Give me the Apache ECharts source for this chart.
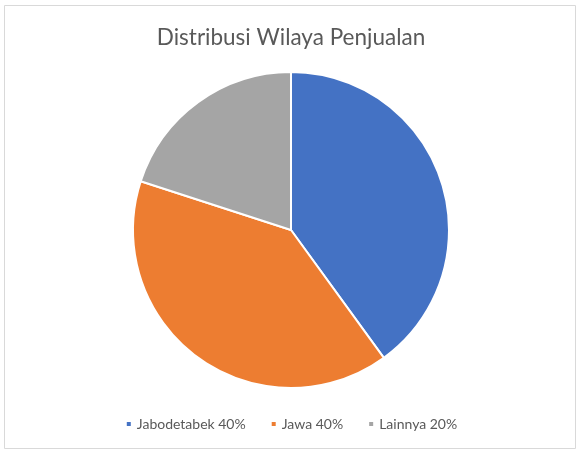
<!DOCTYPE html>
<html><head><meta charset="utf-8">
<script src="https://cdn.jsdelivr.net/npm/echarts@6/dist/echarts.min.js"></script>
<style>html,body{margin:0;padding:0;background:#fff}#c{width:582px;height:456px}</style>
</head><body><div id="c"></div>
<script>
const categories = ['Jabodetabek', 'Jawa', 'Lainnya'];
const values = [40, 40, 20];
const colors = ['#4472C4', '#ED7D31', '#A5A5A5'];
const titleText = 'Distribusi Wilaya Penjualan';

const chart = echarts.init(document.getElementById('c'));
chart.setOption({
  animation: false,
  color: colors,
  title: {
    text: titleText, left: 'center', top: 21,
    textStyle: { fontFamily: 'Lato', fontSize: 22.5, fontWeight: 'normal', color: '#595959' }
  },
  legend: {
    bottom: 20, left: 'center', icon: 'rect', itemWidth: 6, itemHeight: 6, itemGap: 24,
    textStyle: { fontFamily: 'Lato', fontSize: 14, color: '#595959' },
    formatter: function (n) { const i = categories.indexOf(n); return n + ' ' + values[i] + '%'; }
  },
  graphic: [{
    type: 'rect', shape: { x: 4.5, y: 5.5, width: 571, height: 443 },
    style: { fill: 'none', stroke: '#D9D9D9', lineWidth: 1 }, silent: true
  }],
  series: [{
    type: 'pie', center: [291, 230], radius: 158, startAngle: 90, clockwise: true,
    label: { show: false }, labelLine: { show: false },
    itemStyle: { borderColor: '#fff', borderWidth: 2 },
    emphasis: { disabled: true },
    data: categories.map((c, i) => ({ name: c, value: values[i] }))
  }]
});
</script></body></html>
